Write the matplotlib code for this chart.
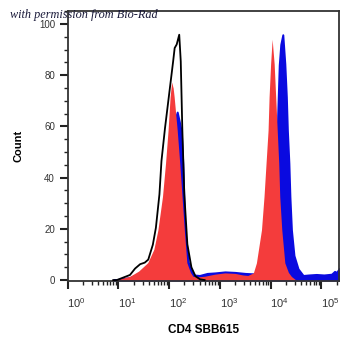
import numpy as np
import matplotlib
matplotlib.use('Agg')
import matplotlib.pyplot as plt
import matplotlib.transforms as mtransforms
from matplotlib.ticker import LogLocator, MultipleLocator

plt.rcParams['font.family'] = ['Liberation Sans', 'DejaVu Sans']
plt.rcParams['mathtext.default'] = 'regular'

# histogram outlines (log10 of CD4 SBB615, count)
red_logx = [0.90, 1.00, 1.23, 1.40, 1.58, 1.70, 1.78, 1.87, 1.93, 1.98, 2.02,
            2.05, 2.08, 2.10, 2.16, 2.21, 2.30, 2.35, 2.42, 2.47, 2.55, 2.70,
            2.90, 3.10, 3.30, 3.45, 3.55, 3.66, 3.72, 3.82, 3.87, 3.91, 3.95,
            3.97, 4.00, 4.03, 4.07, 4.10, 4.13, 4.16, 4.18, 4.22, 4.28, 4.35,
            4.41, 4.50]
red_count = [0, 0.3, 1.5, 3.5, 6.8, 12, 19.6, 32.6, 45.6, 58.5, 71.5,
             77.3, 75, 71.5, 58.5, 45.6, 19.6, 6.8, 3, 1.5, 1.2, 1.5,
             2.3, 2.8, 2.6, 2.0, 1.8, 2.8, 6.7, 19.6, 32.6, 45.6, 58.5,
             71.5, 84.4, 94, 84.4, 71.5, 58.5, 45.6, 32.6, 19.6, 6.7, 3,
             1.4, 0]

blue_logx = [0.90, 1.00, 1.23, 1.40, 1.58, 1.78, 1.93, 2.05, 2.12, 2.16,
             2.20, 2.24, 2.27, 2.31, 2.38, 2.48, 2.60, 2.75, 2.90, 3.10,
             3.30, 3.50, 3.70, 3.86, 3.92, 4.02, 4.07, 4.11, 4.13, 4.15,
             4.17, 4.20, 4.24, 4.28, 4.31, 4.33, 4.36, 4.38, 4.41, 4.46,
             4.54, 4.64, 4.75, 4.90, 5.05, 5.20, 5.26, 5.30, 5.35]
blue_count = [0, 0.3, 1.0, 2.5, 5, 14, 33, 55, 63, 65.6,
              62, 58, 45.6, 19.6, 6.8, 2.0, 1.8, 2.6, 2.8, 3.2,
              3.0, 2.6, 2.4, 2.8, 6.7, 19.6, 32.6, 45.6, 58.5, 71.5,
              84, 92, 95.8, 84.4, 71.5, 58.5, 45.6, 32.6, 19.6, 9.6,
              4.4, 1.8, 2.0, 2.2, 2.0, 2.3, 3.4, 3.0, 4.5]

black_logx = [0.90, 0.97, 1.10, 1.23, 1.33, 1.43, 1.52, 1.59, 1.68, 1.74,
              1.81, 1.85, 1.92, 2.00, 2.08, 2.11, 2.15, 2.20, 2.23, 2.26,
              2.30, 2.36, 2.44, 2.52, 2.61, 2.70]
black_count = [0, 0, 1.0, 2.0, 4.5, 6.2, 6.8, 8, 13.8, 20.4,
               33.5, 46.5, 59.4, 72.4, 85.4, 90.6, 92, 95.8, 85.4, 59.4,
               33.5, 14, 5, 1.5, 0.3, 0]

fig = plt.figure(figsize=(3.5, 3.48), dpi=100)
ax = fig.add_axes([0.193, 0.193, 0.776, 0.775])

ax.fill_between(10 ** np.array(blue_logx), blue_count, color='#0a0ae0',
                lw=1.4, edgecolor='#0a0ae0', zorder=1)
ax.fill_between(10 ** np.array(red_logx), red_count, color='#f43c3c',
                lw=0, zorder=2)
ax.plot(10 ** np.array(black_logx), black_count, color='black', lw=1.3,
        zorder=3)

ax.set_xscale('log')
ax.set_xlim(1, 10 ** 5.35)
ax.set_ylim(-0.3, 105)
ax.xaxis.set_major_locator(LogLocator(base=10, numticks=10))
ax.xaxis.set_minor_locator(LogLocator(base=10, subs=np.arange(2, 10), numticks=20))
ax.yaxis.set_major_locator(MultipleLocator(20))
ax.yaxis.set_minor_locator(MultipleLocator(5))

for s in ax.spines.values():
    s.set_linewidth(1.3)
    s.set_color('#333333')
ax.tick_params(which='major', length=6, width=1.5, color='#222222',
               labelsize=7, labelcolor='#333333', pad=3)
ax.tick_params(axis='x', which='major', labelsize=8, pad=5)
ax.tick_params(which='minor', length=3, width=1.0, color='#222222')

# the exponent labels sit a little right of their ticks
shift = mtransforms.ScaledTranslation(0.09, 0, fig.dpi_scale_trans)
for lab in ax.get_xticklabels():
    lab.set_transform(lab.get_transform() + shift)

ax.set_ylabel('Count', fontsize=8, fontweight='bold', labelpad=11)
ax.set_xlabel('CD4 SBB615', fontsize=8.5, fontweight='bold', labelpad=10)

fig.text(0.029, 0.958, 'with permission from Bio-Rad', fontsize=8.8,
         family='Liberation Serif', style='italic', color='#1a1a3a',
         va='center')

fig.savefig('out.png', dpi=100)
